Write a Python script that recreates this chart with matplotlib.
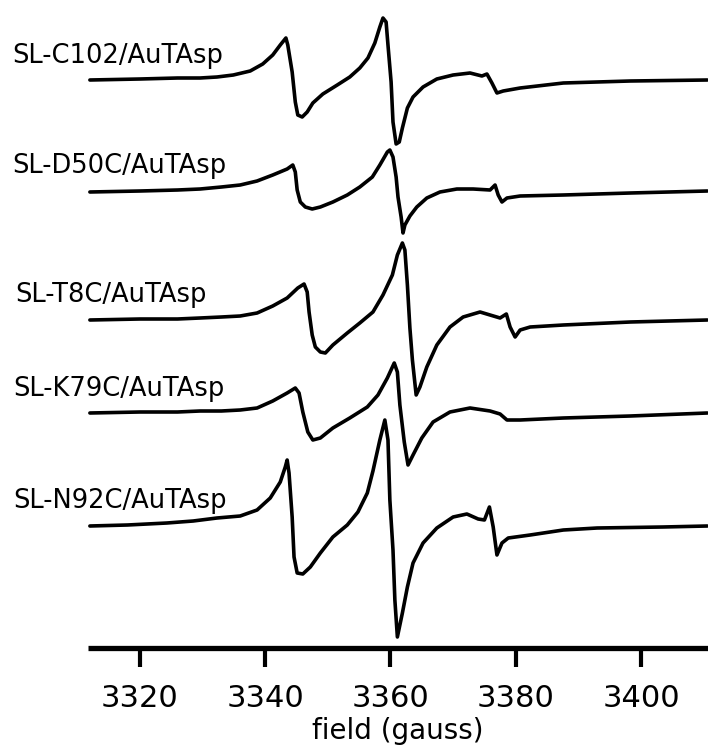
import matplotlib
matplotlib.use("Agg")
import matplotlib.pyplot as plt
import numpy as np

# Field axis (gauss)
x_min, x_max = 3311.7, 3410.7
tick_values = [3320, 3340, 3360, 3380, 3400]

labels = ["SL-C102/AuTAsp", "SL-D50C/AuTAsp", "SL-T8C/AuTAsp",
          "SL-K79C/AuTAsp", "SL-N92C/AuTAsp"]

# vertical offsets of each spectrum (arbitrary units)
offsets = [568, 456, 328, 235, 122]

# first-derivative EPR spectra: field (G) and signal (arb. units)
c102_field = [3312.0, 3320.0, 3326.0, 3329.6, 3332.3, 3334.9, 3337.6, 3339.6, 3341.2, 3342.4,
              3343.3, 3343.6, 3344.3, 3344.8, 3345.2, 3345.9, 3346.7, 3347.6, 3349.2, 3351.5,
              3353.5, 3355.1, 3356.4, 3357.5, 3358.3, 3358.8, 3359.3, 3359.6, 3360.1, 3360.4,
              3360.9, 3361.4, 3361.9, 3362.7, 3363.6, 3365.2, 3367.4, 3370.0, 3372.7, 3374.6,
              3375.4, 3376.2, 3377.0, 3378.0, 3380.7, 3387.6, 3398.3, 3410.6]
c102_signal = [0, 1, 2, 2, 3, 5, 9, 16, 25, 35,
               42, 35, 8, -22, -35, -37, -32, -23, -14, -5,
               3, 12, 22, 37, 53, 62, 58, 35, -2, -42,
               -64, -62, -48, -28, -17, -7, 1, 5, 7, 4,
               6, -3, -13, -11, -8, -3, -1, 0]

d50c_field = [3312.0, 3320.0, 3326.0, 3329.6, 3333.0, 3336.0, 3338.7, 3341.2, 3343.5, 3344.4,
              3344.8, 3345.1, 3345.6, 3346.4, 3347.5, 3348.8, 3350.8, 3353.1, 3355.1, 3357.1,
              3358.3, 3359.5, 3359.9, 3360.4, 3360.9, 3361.2, 3361.7, 3362.0, 3362.3, 3363.1,
              3364.2, 3365.8, 3367.9, 3370.6, 3373.2, 3375.9, 3376.7, 3377.2, 3377.8, 3378.6,
              3380.7, 3387.6, 3398.3, 3410.6]
d50c_signal = [0, 1, 2, 3, 5, 7, 11, 17, 23, 27,
               20, 2, -10, -15, -17, -15, -10, -3, 5, 15,
               27, 40, 42, 35, 15, -5, -25, -41, -33, -24,
               -15, -6, 0, 3, 3, 2, 7, -3, -10, -6,
               -4, -3, -1, 1]

t8c_field = [3312.0, 3320.0, 3326.0, 3329.6, 3333.0, 3336.0, 3338.7, 3341.2, 3343.5, 3345.2,
             3346.2, 3346.7, 3347.0, 3347.5, 3348.0, 3348.8, 3349.6, 3350.8, 3353.1, 3355.1,
             3357.2, 3358.8, 3360.3, 3361.1, 3361.9, 3362.3, 3362.7, 3363.1, 3363.5, 3364.1,
             3364.7, 3365.8, 3367.4, 3369.5, 3371.6, 3374.3, 3375.9, 3377.5, 3378.5, 3379.1,
             3379.9, 3380.7, 3382.3, 3387.6, 3398.3, 3410.6]
t8c_signal = [0, 1, 1, 2, 3, 4, 7, 14, 22, 32,
              36, 28, 8, -15, -27, -32, -33, -25, -13, -3,
              8, 25, 45, 65, 77, 70, 35, -8, -40, -75,
              -67, -47, -25, -7, 3, 8, 5, 2, 6, -7,
              -17, -10, -7, -5, -2, 0]

k79c_field = [3312.0, 3320.0, 3326.0, 3329.6, 3333.0, 3336.0, 3338.7, 3341.2, 3343.5, 3344.8,
              3345.4, 3346.0, 3346.8, 3347.6, 3348.8, 3350.8, 3353.5, 3356.3, 3358.0, 3359.5,
              3360.6, 3361.1, 3361.5, 3362.2, 3362.8, 3363.6, 3365.0, 3366.8, 3369.5, 3372.7,
              3375.9, 3377.5, 3378.6, 3380.7, 3387.6, 3398.3, 3410.6]
k79c_signal = [0, 1, 1, 2, 2, 3, 5, 12, 20, 25,
               20, 1, -19, -27, -25, -15, -5, 6, 18, 35,
               50, 41, 8, -29, -52, -42, -25, -9, 1, 5,
               2, -1, -7, -7, -5, -3, 0]

n92c_field = [3312.0, 3318.0, 3324.3, 3328.5, 3332.3, 3336.0, 3338.7, 3340.8, 3342.4, 3343.2,
              3343.5, 3343.8, 3344.3, 3344.6, 3345.1, 3346.0, 3347.2, 3348.8, 3350.8, 3353.1,
              3354.8, 3356.3, 3357.2, 3358.3, 3359.1, 3359.6, 3359.9, 3360.4, 3360.7, 3361.1,
              3361.9, 3362.7, 3363.6, 3365.2, 3367.4, 3370.0, 3372.2, 3374.0, 3375.0, 3375.8,
              3376.4, 3377.0, 3377.8, 3378.8, 3382.3, 3387.6, 3393.0, 3403.5, 3410.6]
n92c_signal = [0, 1, 3, 5, 8, 10, 16, 28, 44, 59,
               66, 53, 9, -31, -47, -48, -41, -27, -11, 1,
               14, 33, 55, 86, 106, 86, 26, -24, -74, -111,
               -87, -61, -37, -17, -2, 9, 12, 7, 6, 19,
               -1, -29, -17, -12, -9, -4, -2, -1, 0]

fields = [c102_field, d50c_field, t8c_field, k79c_field, n92c_field]
signals = [c102_signal, d50c_signal, t8c_signal, k79c_signal, n92c_signal]

W, H = 708, 747
fig = plt.figure(figsize=(W / 100, H / 100), dpi=100)
plt.rcParams['font.family'] = ['DejaVu Sans']

# axes spans from the left end of the field axis to the right edge
ax = fig.add_axes([88 / W, (H - 648) / H, 1 - 88 / W, 648 / H])
ax.set_xlim(x_min, x_max)
ax.set_ylim(0, 648)

for f, s, off in zip(fields, signals, offsets):
    ax.plot(f, np.asarray(s) + off, color='black', lw=2.6,
            solid_joinstyle='round', solid_capstyle='round')

for side in ['top', 'right', 'left']:
    ax.spines[side].set_visible(False)
ax.spines['bottom'].set_linewidth(3.8)
ax.spines['bottom'].set_capstyle('butt')
ax.set_yticks([])
ax.set_xticks(tick_values)
ax.set_xticklabels([str(v) for v in tick_values])
ax.tick_params(axis='x', direction='out', length=14, width=3.0,
               labelsize=22, pad=12, color='black')
ax.set_xlabel("field (gauss)", fontsize=20, labelpad=3)

# sample labels to the left of each trace
label_xy = [(12, 684), (12, 574), (15, 445), (13, 351), (13, 239)]
for lab, (px, py) in zip(labels, label_xy):
    fig.text(px / W, py / H, lab, fontsize=18.5, ha='left', va='baseline')

fig.savefig("out.png", dpi=100, facecolor='white')
